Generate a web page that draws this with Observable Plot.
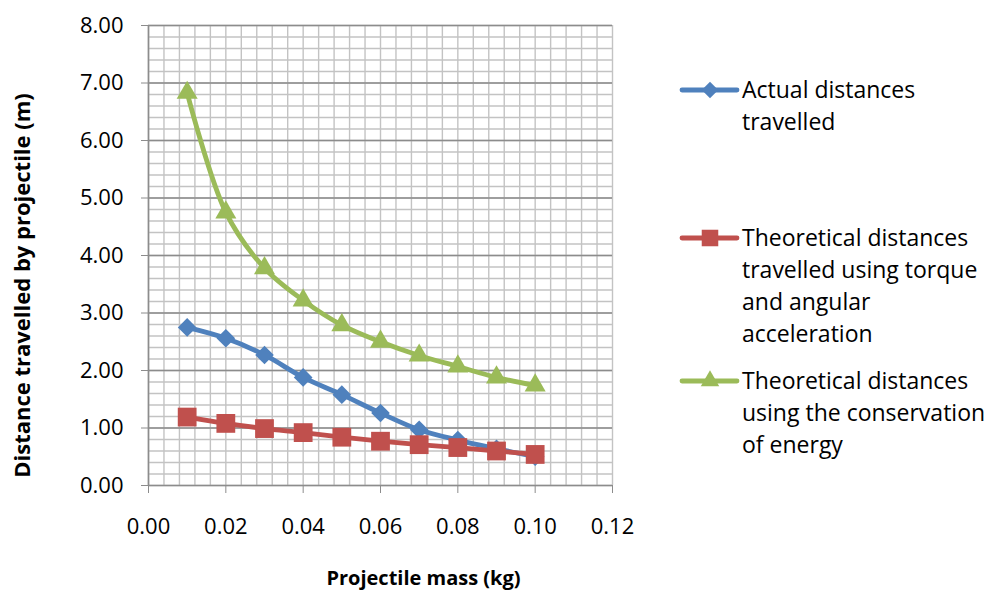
<!DOCTYPE html>
<html>
<head>
<meta charset="utf-8">
<script src="https://cdn.jsdelivr.net/npm/d3@7"></script>
<script src="https://cdn.jsdelivr.net/npm/@observablehq/plot@0.6"></script>
<style>
  html, body { margin: 0; padding: 0; background: #fff; }
  svg { font-family: "Open Sans", sans-serif; }
</style>
</head>
<body>
<div id="chart"></div>
<script>
const mass = [0.01, 0.02, 0.03, 0.04, 0.05, 0.06, 0.07, 0.08, 0.09, 0.10];
const actual = [2.75, 2.56, 2.27, 1.88, 1.58, 1.26, 0.97, 0.79, 0.64, 0.50];
const torque = [1.19, 1.08, 0.99, 0.92, 0.84, 0.77, 0.71, 0.66, 0.60, 0.54];
const energy = [6.83, 4.75, 3.78, 3.22, 2.79, 2.50, 2.26, 2.07, 1.88, 1.74];

const seriesNames = [
  "Actual distances travelled",
  "Theoretical distances travelled using torque and angular acceleration",
  "Theoretical distances using the conservation of energy"
];
const legendLines = [
  ["Actual distances", "travelled"],
  ["Theoretical distances", "travelled using torque", "and angular", "acceleration"],
  ["Theoretical distances", "using the conservation", "of energy"]
];
const colors = ["#4f81bd", "#c0504d", "#9bbb59"];
const symbols = ["diamond2", "square", "triangle"];
const symbolR = [8.4, 10.6, 7.8];
const xTicks = [0, 0.02, 0.04, 0.06, 0.08, 0.10, 0.12];
const yTicks = [0, 1, 2, 3, 4, 5, 6, 7, 8];
const xMinor = d3.range(0, 31).map(i => i * 0.004);
const yMinor = d3.range(0, 41).map(i => i * 0.2);
const xTitle = "Projectile mass (kg)";
const yTitle = "Distance travelled by projectile (m)";

const seriesValues = [actual, torque, energy];
const data = seriesValues.flatMap((vals, s) =>
  vals.map((v, i) => ({ mass: mass[i], dist: v, series: seriesNames[s] })));

const dotMarks = seriesNames.map((name, s) =>
  Plot.dot(data.filter(d => d.series === name), {
    x: "mass", y: "dist", fill: colors[s], symbol: symbols[s], r: symbolR[s]
  }));

const chart = Plot.plot({
  width: 987,
  height: 590,
  marginLeft: 148,
  marginRight: 375,
  marginTop: 25,
  marginBottom: 105,
  style: { fontFamily: "'Open Sans', sans-serif", fontSize: "22px", color: "#000" },
  x: { domain: [0, 0.12] },
  y: { domain: [0, 8] },
  color: { domain: seriesNames, range: colors },
  marks: [
    Plot.ruleX(xMinor, { stroke: "#c3c3c3", strokeWidth: 1.4 }),
    Plot.ruleY(yMinor, { stroke: "#c3c3c3", strokeWidth: 1.4 }),
    Plot.ruleY(yTicks, { stroke: "#8c8c8c", strokeWidth: 1.6 }),
    Plot.ruleX([0], { stroke: "#8c8c8c", strokeWidth: 1.6 }),
    Plot.axisX({ ticks: xTicks, tickFormat: d3.format(".2f"), tickSize: 8, tickPadding: 25, stroke: "#8c8c8c", label: null, fontSize: 22 }),
    Plot.axisY({ ticks: yTicks, tickFormat: d3.format(".2f"), tickSize: 7, tickPadding: 18, stroke: "#8c8c8c", label: null, fontSize: 22 }),
    Plot.line(data, { x: "mass", y: "dist", z: "series", stroke: "series", strokeWidth: 4.8, curve: "catmull-rom" }),
    ...dotMarks,
    Plot.text([xTitle], { frameAnchor: "bottom", textAnchor: "middle", lineAnchor: "middle", dx: 43, dy: 93, fontWeight: "bold", fontSize: 20 }),
    Plot.text([yTitle], { frameAnchor: "left", textAnchor: "middle", lineAnchor: "middle", rotate: -90, dx: -126, dy: 30, fontWeight: "bold", fontSize: 22 })
  ]
});

// legend
const svg = d3.select(chart);
const legendTop = [90, 238, 381];
const symTypes = { diamond2: d3.symbolDiamond2, square: d3.symbolSquare, triangle: d3.symbolTriangle };
const g = svg.append("g").attr("class", "legend").attr("text-anchor", "start");
legendLines.forEach((lines, i) => {
  const y = legendTop[i];
  g.append("line").attr("x1", 682).attr("x2", 737).attr("y1", y).attr("y2", y)
    .attr("stroke", colors[i]).attr("stroke-width", 4.8).attr("stroke-linecap", "round");
  const R = symbolR[i] * 0.88;
  const s = d3.symbol().type(symTypes[symbols[i]]).size(Math.PI * R * R);
  g.append("path").attr("d", s()).attr("transform", `translate(710,${y})`).attr("fill", colors[i]);
  lines.forEach((t, j) => {
    g.append("text").attr("x", 742).attr("y", y + j * 32).attr("dy", "0.35em")
      .attr("font-size", 23).attr("fill", "#000").text(t);
  });
});

document.getElementById("chart").appendChild(chart);
</script>
</body>
</html>
